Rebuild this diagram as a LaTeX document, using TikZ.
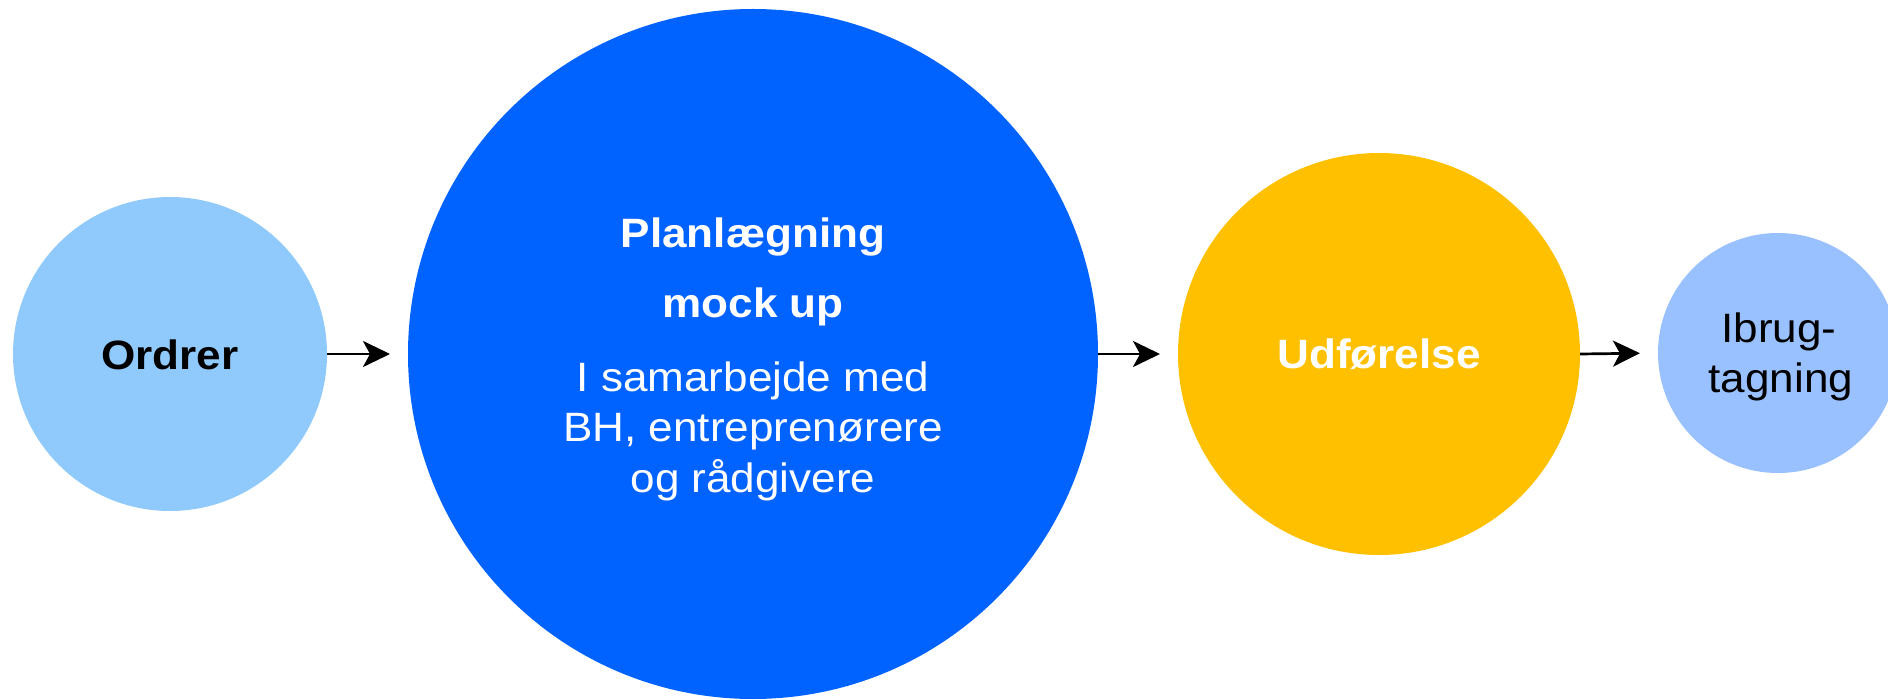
\documentclass[tikz,border=0pt]{standalone}
\usepackage{fontspec}
\setmainfont{Liberation Sans}[FakeStretch=1.075]
\usetikzlibrary{arrows.meta}
\definecolor{cOrd}{RGB}{144,202,252}
\definecolor{cPlan}{RGB}{0,98,255}
\definecolor{cUdf}{RGB}{255,192,0}
\definecolor{cIbr}{RGB}{153,192,255}
\begin{document}
\begin{tikzpicture}[x=1pt,y=-1pt,
  disc/.style={circle, draw=none, inner sep=0pt, outer sep=0pt},
  lbl/.style={font=\fontsize{41}{50}\selectfont, anchor=base, inner sep=0pt, outer sep=0pt},
  blbl/.style={lbl, font=\fontsize{41}{50}\selectfont\bfseries},
  flow/.style={-{Stealth[length=27pt,width=26pt,inset=7pt]}, line width=2.7pt, shorten >=18pt}]
\useasboundingbox (0,0) rectangle (1888,700);
\clip (0,0) rectangle (1888,700);
% circles
\node[disc, fill=cOrd, minimum size=314pt] (ordrer) at (170,354) {};
\node[disc, fill=cPlan, minimum size=690pt] (plan) at (753,354) {};
\node[disc, fill=cUdf, minimum size=402pt] (udf) at (1379,354) {};
\node[disc, fill=cIbr, minimum size=240pt] (ibr) at (1778,353) {};
% texts
\node[blbl, text=black] (tOrd) at (170,370) {Ordrer};
\node[blbl, text=white] (tPlan1) at (753,248) {Planlægning};
\node[blbl, text=white] (tPlan2) at (753,318) {mock up};
\node[lbl, text=white] (tPlan3) at (753,392) {I samarbejde med};
\node[lbl, text=white] (tPlan4) at (753,442) {BH, entreprenørere};
\node[lbl, text=white] (tPlan5) at (753,492) {og rådgivere};
\node[blbl, text=white] (tUdf) at (1379,369) {Udførelse};
\node[lbl, text=black] (tIbr1) at (1779,343) {Ibrug-};
\node[lbl, text=black] (tIbr2) at (1781,393) {tagning};
% connectors
\draw[flow] (ordrer.east) -- (plan.west);
\draw[flow] (plan.east) -- (udf.west);
\draw[flow] (udf.east) -- (ibr.west);
\end{tikzpicture}
\end{document}
